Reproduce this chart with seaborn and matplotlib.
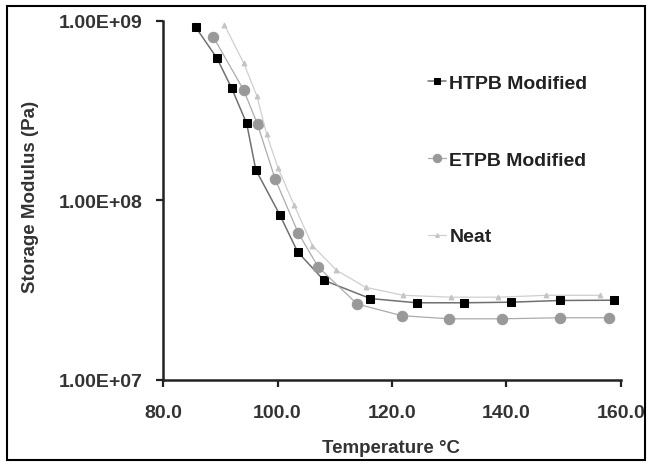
import matplotlib
matplotlib.use('Agg')
import matplotlib.pyplot as plt
from matplotlib.patches import Rectangle
import pandas as pd
import seaborn as sns

# values
htpb_temp = [85.7, 89.4, 92.0, 94.6, 96.2, 100.4, 103.5, 108.1, 116.2, 124.3, 132.6, 140.8, 149.3, 158.9]
htpb_mod = [9.2e8, 6.2e8, 4.2e8, 2.68e8, 1.48e8, 8.3e7, 5.17e7, 3.59e7, 2.84e7, 2.69e7, 2.69e7, 2.71e7, 2.77e7, 2.78e7]

etpb_temp = [88.8, 94.1, 96.5, 99.6, 103.6, 107.1, 113.9, 121.7, 130.0, 139.2, 149.3, 158.0]
etpb_mod = [8.1e8, 4.1e8, 2.65e8, 1.31e8, 6.6e7, 4.26e7, 2.65e7, 2.28e7, 2.19e7, 2.19e7, 2.22e7, 2.22e7]

neat_temp = [90.7, 94.1, 96.4, 98.1, 100.1, 102.9, 106.1, 110.3, 115.4, 122.0, 130.4, 138.6, 147.0, 156.3]
neat_mod = [9.5e8, 5.8e8, 3.8e8, 2.33e8, 1.51e8, 9.4e7, 5.6e7, 4.08e7, 3.28e7, 2.96e7, 2.89e7, 2.89e7, 2.96e7, 2.96e7]

x_ticks = [80, 100, 120, 140, 160]
x_tick_labels = ['80.0', '100.0', '120.0', '140.0', '160.0']
y_ticks = [1e7, 1e8, 1e9]
y_tick_labels = ['1.00E+07', '1.00E+08', '1.00E+09']

sns.set_style('white')
plt.rcParams['font.family'] = ['Liberation Sans', 'DejaVu Sans']

fig = plt.figure(figsize=(6.5, 4.64), dpi=100)
ax = fig.add_axes([0.251, 0.179, 0.704, 0.774])

htpb = pd.DataFrame({'temp': htpb_temp, 'mod': htpb_mod})
etpb = pd.DataFrame({'temp': etpb_temp, 'mod': etpb_mod})
neat = pd.DataFrame({'temp': neat_temp, 'mod': neat_mod})

sns.lineplot(data=htpb, x='temp', y='mod', ax=ax, sort=False, color='#707070', lw=1.1,
             marker='s', markersize=5.5, markerfacecolor='black', markeredgecolor='black',
             label='HTPB Modified')
sns.lineplot(data=etpb, x='temp', y='mod', ax=ax, sort=False, color='#ababab', lw=0.9,
             marker='o', markersize=7.5, markerfacecolor='#999999', markeredgecolor='#999999',
             label='ETPB Modified')
sns.lineplot(data=neat, x='temp', y='mod', ax=ax, sort=False, color='#cfcfcf', lw=0.9,
             marker='^', markersize=3.5, markerfacecolor='#c4c4c4', markeredgecolor='#c4c4c4',
             label='Neat')

ax.set_yscale('log')
ax.set_xlim(80, 160)
ax.set_ylim(1e7, 1e9)
ax.set_xticks(x_ticks)
ax.set_xticklabels(x_tick_labels)
ax.set_yticks(y_ticks)
ax.set_yticklabels(y_tick_labels)
ax.minorticks_off()

for lab in ax.get_xticklabels() + ax.get_yticklabels():
    lab.set_fontweight('bold')
    lab.set_color('#333333')
ax.tick_params(axis='both', labelsize=14, length=5, width=1.6, color='#222222',
               direction='out', bottom=True, left=True)
ax.tick_params(axis='y', pad=10)
ax.tick_params(axis='x', pad=12)

for side in ['top', 'right']:
    ax.spines[side].set_visible(False)
for side in ['left', 'bottom']:
    ax.spines[side].set_linewidth(1.8)
    ax.spines[side].set_color('#222222')

ax.set_xlabel('Temperature °C', fontsize=13.5, fontweight='bold', color='#333333')
ax.set_ylabel('Storage Modulus (Pa)', fontsize=13.5, fontweight='bold', color='#333333')
ax.xaxis.label.set_va('center')
ax.yaxis.label.set_va('center')
ax.xaxis.set_label_coords(0.497, -0.187)
ax.yaxis.set_label_coords(-0.29, 0.511)

leg = ax.legend(loc='upper left', bbox_to_anchor=(428 / 650, 1 - 75 / 464),
                bbox_transform=fig.transFigure, frameon=False, fontsize=14,
                handlelength=0.9, handletextpad=0.2, labelspacing=3.05,
                borderpad=0, borderaxespad=0, markerscale=0.8)
for t in leg.get_texts():
    t.set_fontweight('bold')
    t.set_color('#222222')

# outer frame around the whole picture
fig.patches.append(Rectangle((7 / 650, 1 - 461 / 464), 638 / 650, 454 / 464,
                             transform=fig.transFigure, fill=False, lw=1.5,
                             ec='black'))

fig.savefig('out.png', dpi=100)
